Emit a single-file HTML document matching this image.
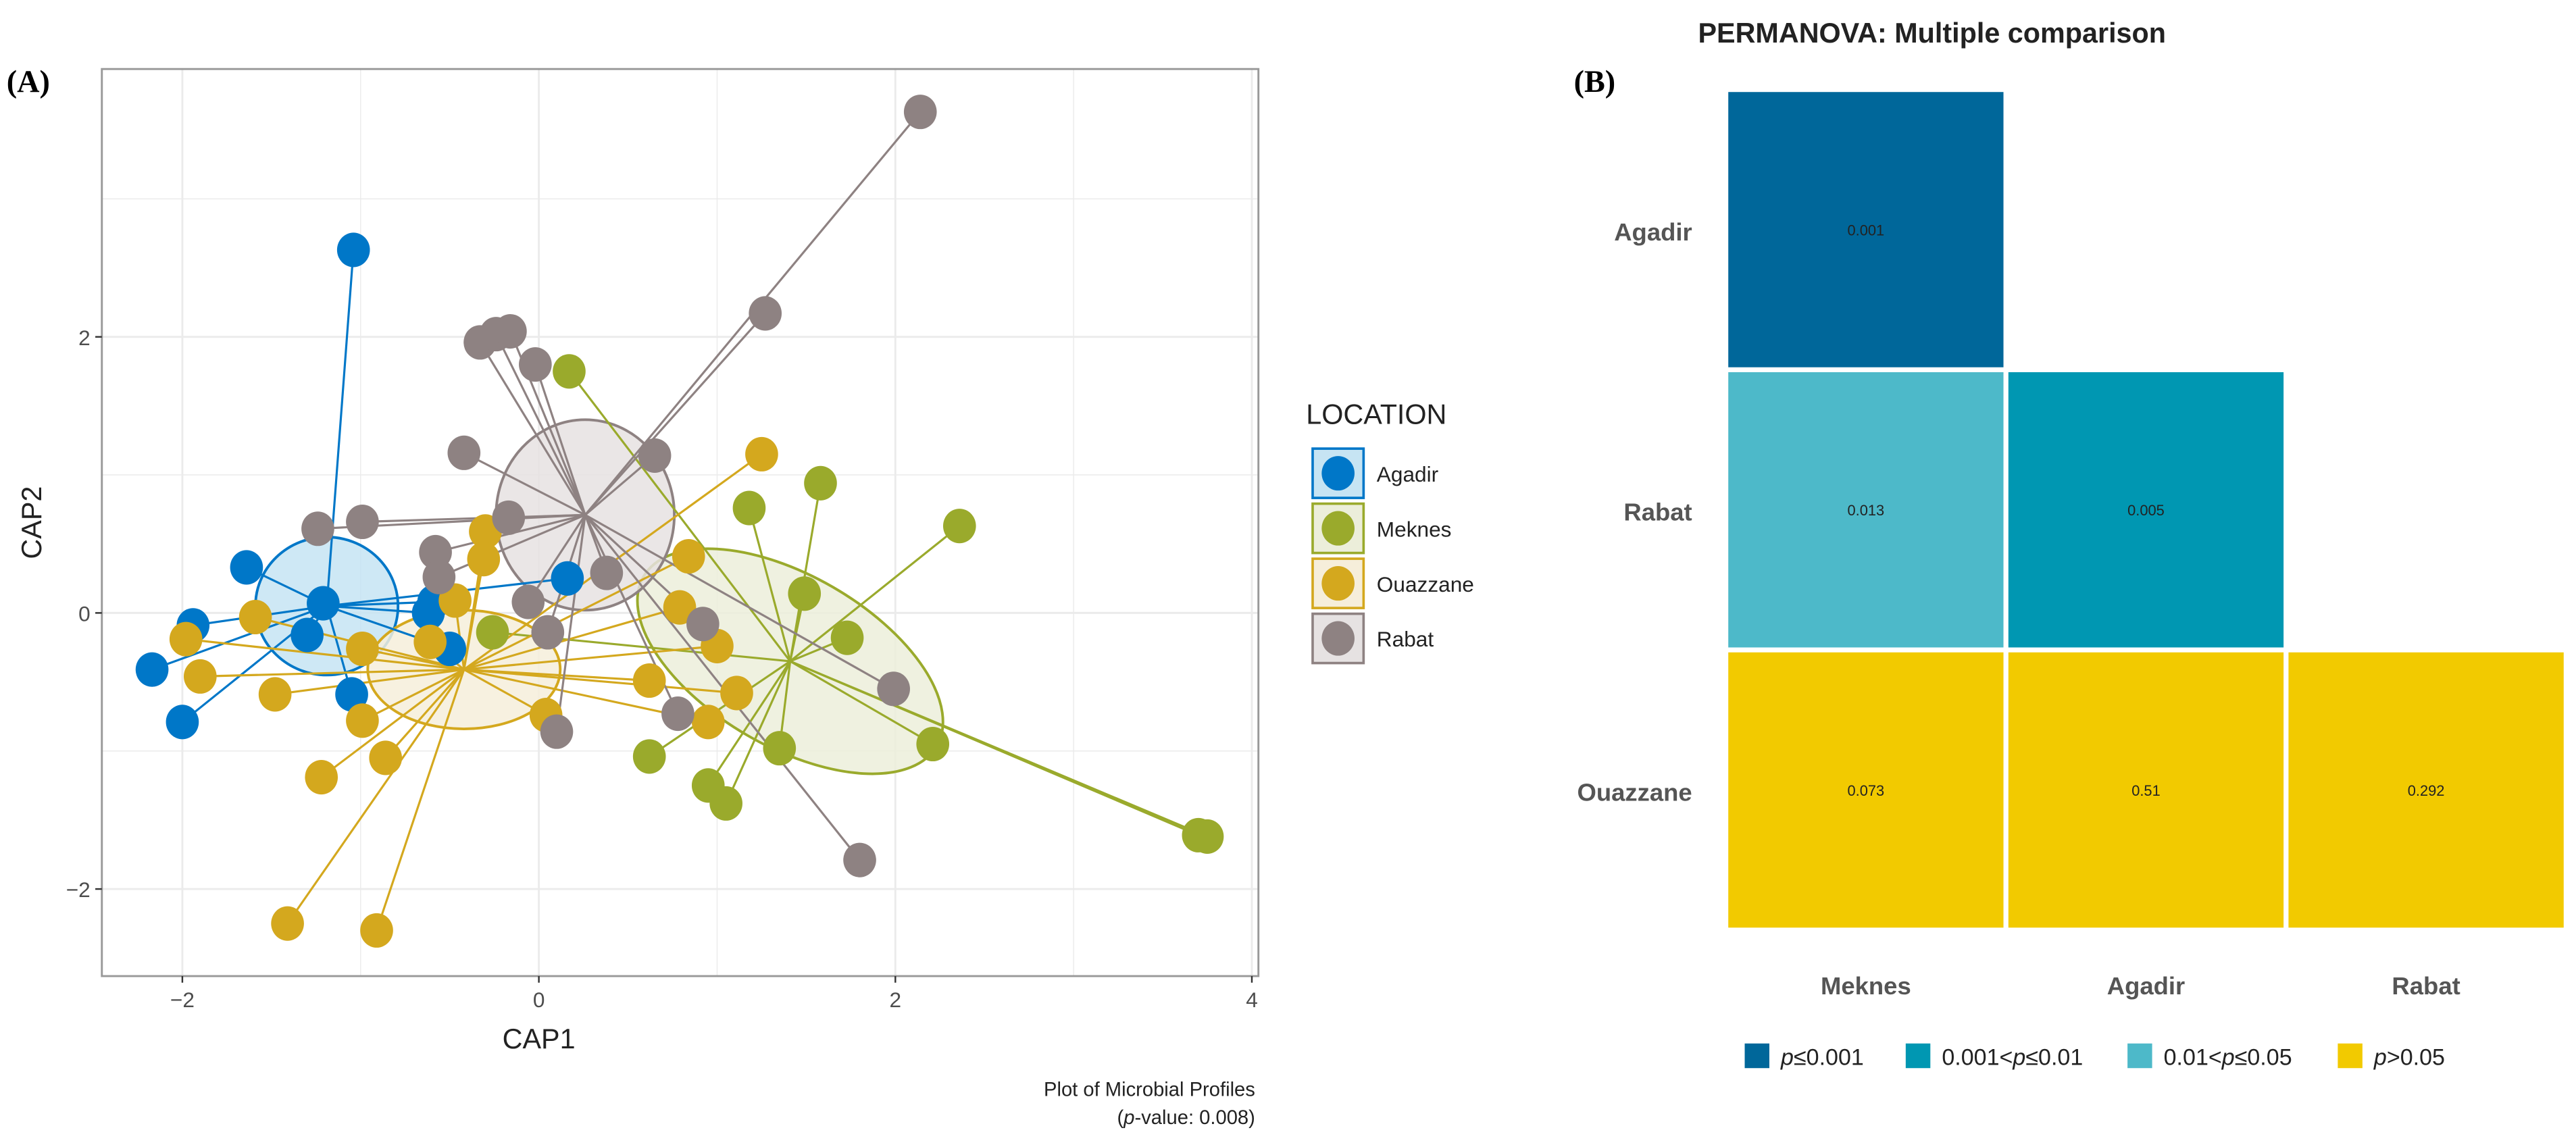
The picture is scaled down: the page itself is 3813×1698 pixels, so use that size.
<!DOCTYPE html>
<html><head><meta charset="utf-8"><style>
html,body{margin:0;padding:0;background:#fff;}
svg{display:block;font-family:"Liberation Sans",sans-serif;}
</style></head><body>
<svg id="fig" width="3813" height="1698" viewBox="0 0 1568 698" preserveAspectRatio="none" xmlns="http://www.w3.org/2000/svg">
<text x="4" y="56" font-family="Liberation Serif" font-weight="bold" font-size="19">(A)</text>
<text x="958" y="56" font-family="Liberation Serif" font-weight="bold" font-size="19">(B)</text>
<g id="pa"></g>
<g id="pb"></g>
</svg>
<script>
const NS="http://www.w3.org/2000/svg";
const groups=["Agadir","Meknes","Ouazzane","Rabat"];
const colors=["#0077C8","#9AAA2C","#D4A81E","#8E8282"];
const fills=["#C6E4F3","#ECEEDA","#F6EEDA","#E6E2E2"];
const agadirX=[-1.04,-1.64,-1.94,-2.17,-2.0,-1.30,-1.05,-0.59,-0.62,-0.5,0.16,-1.21];
const agadirY=[2.63,0.33,-0.09,-0.41,-0.79,-0.16,-0.59,0.08,0.0,-0.26,0.25,0.07];
const meknesX=[0.17,1.58,1.18,2.36,1.49,1.73,-0.26,0.62,1.35,0.95,1.05,2.21,3.70,3.75];
const meknesY=[1.75,0.94,0.76,0.63,0.14,-0.18,-0.14,-1.04,-0.98,-1.25,-1.38,-0.95,-1.61,-1.62];
const ouazX=[1.25,-0.30,-0.31,0.84,-0.47,-1.59,-1.98,-1.90,-1.48,-0.99,-0.86,-1.22,-1.41,-0.91,-0.61,-0.99,0.04,0.62,0.79,1.0,1.11,0.95];
const ouazY=[1.15,0.59,0.39,0.41,0.09,-0.03,-0.19,-0.46,-0.59,-0.78,-1.05,-1.19,-2.25,-2.30,-0.21,-0.26,-0.74,-0.49,0.04,-0.24,-0.58,-0.79];
const rabatX=[2.14,1.27,-0.33,-0.24,-0.16,-0.02,-0.42,0.65,-0.99,-1.24,-0.17,-0.58,-0.56,0.38,-0.06,0.05,0.92,1.99,0.78,0.10,1.80];
const rabatY=[3.63,2.17,1.96,2.02,2.04,1.80,1.16,1.14,0.66,0.61,0.69,0.44,0.26,0.29,0.08,-0.14,-0.08,-0.55,-0.73,-0.86,-1.79];
const centX=[-1.19,1.41,-0.42,0.26];
const centY=[0.05,-0.35,-0.41,0.71];
const ellRx=[0.40,0.95,0.54,0.50];
const ellRy=[0.50,0.62,0.43,0.69];
const ellRot=[0,30,0,0];
const xTicks=[-2,0,2,4];
const yTicks=[-2,0,2];
const xs=[agadirX,meknesX,ouazX,rabatX], ys=[agadirY,meknesY,ouazY,rabatY];

function el(tag,attrs,parent){const e=document.createElementNS(NS,tag);for(const k in attrs)e.setAttribute(k,attrs[k]);parent.appendChild(e);return e;}
const X=v=>328+v*108.5, Y=v=>373-v*84;
const pa=document.getElementById('pa');
// grid
for(let v=-2;v<=4;v+=1){const l=el('line',{x1:X(v),x2:X(v),y1:42,y2:594,stroke:'#ebebeb','stroke-width':v%2===0?1.2:0.6},pa);

}
for(let v=-2;v<=3;v+=1){const l=el('line',{x1:62,x2:766,y1:Y(v),y2:Y(v),stroke:'#ebebeb','stroke-width':v%2===0?1.2:0.6},pa);

}
// ellipses
for(let g=0;g<4;g++){const e=el('ellipse',{cx:X(centX[g]),cy:Y(centY[g]),rx:ellRx[g]*108.5,ry:ellRy[g]*84,fill:fills[g],'fill-opacity':0.85,stroke:colors[g],'stroke-width':1.6,transform:`rotate(${ellRot[g]} ${X(centX[g])} ${Y(centY[g])})`},pa);

}
// spider lines
for(let g=0;g<4;g++){for(let i=0;i<xs[g].length;i++){const l=el('line',{x1:X(centX[g]),y1:Y(centY[g]),x2:X(xs[g][i]),y2:Y(ys[g][i]),stroke:colors[g],'stroke-width':1.3},pa);

}}
// points
for(let g=0;g<4;g++){for(let i=0;i<xs[g].length;i++){const c=el('ellipse',{cx:X(xs[g][i]),cy:Y(ys[g][i]),rx:10,ry:10.5,fill:colors[g]},pa);

}}
// border
const b=el('rect',{x:62,y:42,width:704,height:552,fill:'none',stroke:'#999','stroke-width':1.2},pa);


xTicks.forEach(v=>{const t=el('line',{x1:X(v),x2:X(v),y1:594,y2:598,stroke:'#333'},pa);


const s=el('text',{x:X(v),y:613,'text-anchor':'middle','font-size':13,fill:'#4d4d4d'},pa);s.textContent=v<0?'−'+(-v):v;

});
yTicks.forEach(v=>{const t=el('line',{x1:58,x2:62,y1:Y(v),y2:Y(v),stroke:'#333'},pa);


const s=el('text',{x:55,y:Y(v)+5,'text-anchor':'end','font-size':13,fill:'#4d4d4d'},pa);s.textContent=v<0?'−'+(-v):v;

});
let t=el('text',{x:328,y:638,'text-anchor':'middle','font-size':17,fill:'#222'},pa);t.textContent='CAP1';


t=el('text',{x:0,y:0,'text-anchor':'middle','font-size':17,fill:'#222',transform:'translate(25,318) rotate(-90)'},pa);t.textContent='CAP2';


t=el('text',{x:764,y:667,'text-anchor':'end','font-size':12,fill:'#222'},pa);t.textContent='Plot of Microbial Profiles';


t=el('text',{x:764,y:684,'text-anchor':'end','font-size':12,fill:'#222'},pa);t.innerHTML='(<tspan font-style="italic">p</tspan>-value: 0.008)';


// legend
t=el('text',{x:795,y:258,'font-size':17,fill:'#222'},pa);t.textContent='LOCATION';


for(let g=0;g<4;g++){const cy=288+g*33.5;
const r=el('rect',{x:799,y:cy-15,width:31,height:30,fill:fills[g],stroke:colors[g],'stroke-width':1.5},pa);


el('ellipse',{cx:814.5,cy:cy,rx:10,ry:10.5,fill:colors[g]},pa);
const s=el('text',{x:838,y:cy+5,'font-size':13,fill:'#222'},pa);s.textContent=groups[g];

}

// Panel B
const rowsB=["Agadir","Rabat","Ouazzane"];
const colsB=["Meknes","Agadir","Rabat"];
const pvals=[[0.001,null,null],[0.013,0.005,null],[0.073,0.51,0.292]];
const pLabels=[["0.001","",""],["0.013","0.005",""],["0.073","0.51","0.292"]];
const legendLabels=["≤0.001","0.001<","0.01<",">0.05"];
const pb=document.getElementById('pb');
const cellColor=p=>p<=0.001?'#00679A':p<=0.01?'#0097B2':p<=0.05?'#4DB9C9':'#F2CA00';
t=el('text',{x:1176,y:26,'text-anchor':'middle','font-size':17,'font-weight':'bold',fill:'#222'},pb);t.textContent='PERMANOVA: Multiple comparison';


const cx0=1052,cw=170.5,cy0=56,chh=170.5;
for(let r=0;r<3;r++){for(let c=0;c<3;c++){const p=pvals[r][c];if(p===null)continue;
const rc=el('rect',{x:cx0+c*cw,y:cy0+r*chh,width:cw-3,height:chh-3,fill:cellColor(p)},pb);


const s=el('text',{x:cx0+c*cw+cw/2-1.5,y:cy0+r*chh+chh/2+2,'text-anchor':'middle','font-size':9,fill:'#222'},pb);s.textContent=pLabels[r][c];

}
const s=el('text',{x:1030,y:cy0+r*chh+chh/2+5,'text-anchor':'end','font-size':15,'font-weight':'bold',fill:'#555'},pb);s.textContent=rowsB[r];

}
colsB.forEach((n,c)=>{const s=el('text',{x:cx0+c*cw+cw/2-1.5,y:605,'text-anchor':'middle','font-size':15,'font-weight':'bold',fill:'#555'},pb);s.textContent=n;

});
const legX=[1062,1160,1295,1423], legC=['#00679A','#0097B2','#4DB9C9','#F2CA00'];
const legHTML=['<tspan font-style="italic">p</tspan>≤0.001','0.001&lt;<tspan font-style="italic">p</tspan>≤0.01','0.01&lt;<tspan font-style="italic">p</tspan>≤0.05','<tspan font-style="italic">p</tspan>&gt;0.05'];
for(let i=0;i<4;i++){const r=el('rect',{x:legX[i],y:635,width:15,height:15,fill:legC[i]},pb);


const s=el('text',{x:legX[i]+22,y:648,'font-size':14,fill:'#222'},pb);s.innerHTML=legHTML[i];

}
</script>
</body></html>
